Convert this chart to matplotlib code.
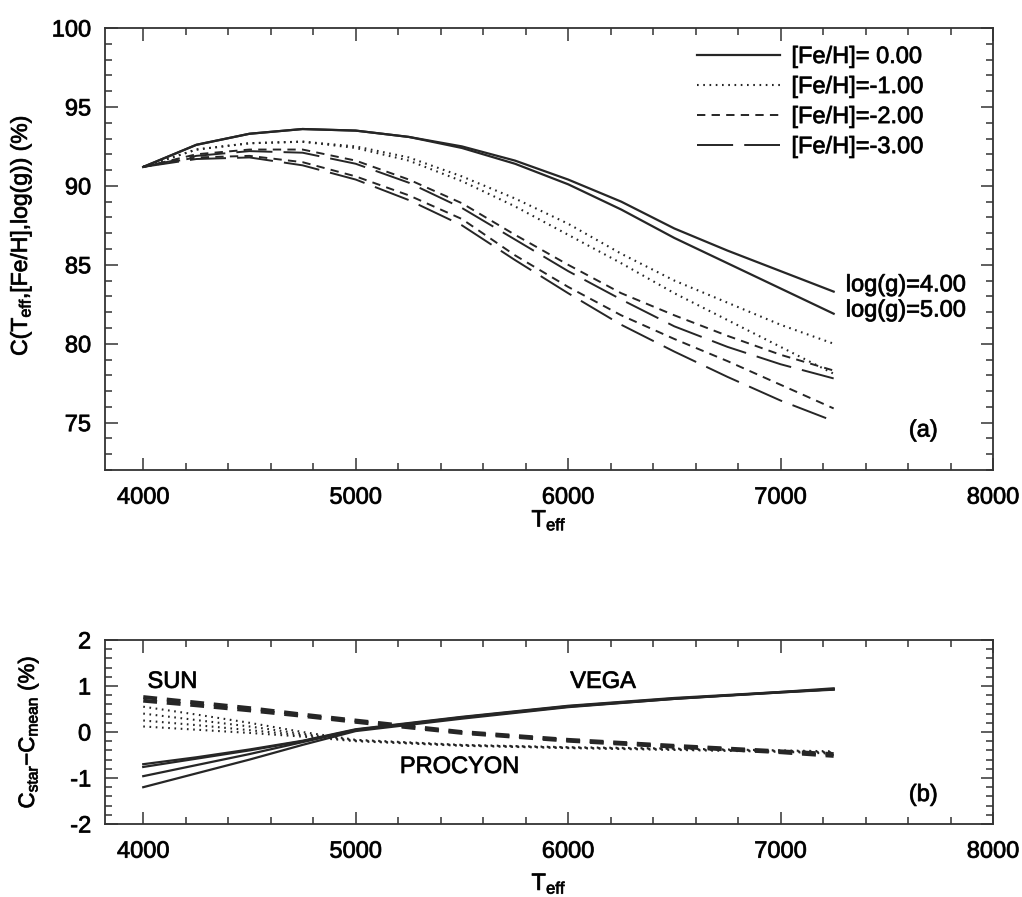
import numpy as np
import matplotlib
matplotlib.use('Agg')
import matplotlib.pyplot as plt
import matplotlib.patheffects as pe
from matplotlib.ticker import MultipleLocator

plt.rcParams['font.family'] = ['Liberation Sans', 'DejaVu Sans']
plt.rcParams['mathtext.fontset'] = 'custom'
plt.rcParams['mathtext.rm'] = 'Liberation Sans'
plt.rcParams['mathtext.it'] = 'Liberation Sans:italic'
plt.rcParams['lines.scale_dashes'] = False
plt.rcParams['axes.unicode_minus'] = False

# ---------------- panel (a) data ----------------
teff_a = [4000, 4250, 4500, 4750, 5000, 5250, 5500, 5750, 6000, 6250, 6500, 6750, 7000, 7250]
c_m0_g4 = [91.2, 92.6, 93.3, 93.6, 93.5, 93.1, 92.5, 91.6, 90.4, 89.0, 87.3, 85.9, 84.6, 83.3]
c_m0_g5 = [91.2, 92.6, 93.3, 93.6, 93.5, 93.1, 92.4, 91.4, 90.1, 88.5, 86.7, 85.1, 83.5, 81.9]
c_m1_g4 = [91.2, 92.3, 92.7, 92.8, 92.5, 91.8, 90.6, 89.2, 87.6, 85.7, 84.0, 82.6, 81.2, 80.0]
c_m1_g5 = [91.2, 92.3, 92.7, 92.8, 92.4, 91.6, 90.3, 88.7, 86.9, 85.1, 83.2, 81.5, 79.8, 78.1]
c_m2_g4 = [91.2, 92.0, 92.3, 92.3, 91.6, 90.4, 88.9, 86.9, 85.0, 83.2, 81.8, 80.5, 79.3, 78.3]
c_m3_g4 = [91.2, 91.9, 92.2, 92.1, 91.4, 90.2, 88.6, 86.6, 84.6, 82.8, 81.1, 79.8, 78.7, 77.8]
c_m2_g5 = [91.2, 91.8, 91.9, 91.5, 90.6, 89.4, 87.9, 85.6, 83.6, 81.8, 80.3, 78.9, 77.4, 75.9]
c_m3_g5 = [91.2, 91.7, 91.8, 91.3, 90.4, 89.1, 87.5, 85.3, 83.2, 81.2, 79.5, 77.9, 76.4, 75.1]

legend_labels = ['[Fe/H]= 0.00', '[Fe/H]=-1.00', '[Fe/H]=-2.00', '[Fe/H]=-3.00']
logg_labels = ['log(g)=4.00', 'log(g)=5.00']

# ---------------- panel (b) data ----------------
teff_b = [4000, 4250, 4500, 4750, 5000, 5500, 6000, 6500, 7000, 7250]
vega_1 = [-0.70, -0.55, -0.38, -0.19, 0.06, 0.33, 0.57, 0.74, 0.87, 0.93]
vega_2 = [-0.76, -0.58, -0.40, -0.20, 0.05, 0.32, 0.56, 0.73, 0.86, 0.92]
vega_3 = [-0.96, -0.72, -0.48, -0.22, 0.04, 0.31, 0.55, 0.72, 0.86, 0.93]
vega_4 = [-1.20, -0.90, -0.60, -0.28, 0.02, 0.29, 0.54, 0.72, 0.87, 0.95]
sun_1 = [0.76, 0.64, 0.52, 0.38, 0.25, 0.00, -0.17, -0.30, -0.42, -0.48]
sun_2 = [0.68, 0.58, 0.47, 0.35, 0.22, -0.02, -0.19, -0.32, -0.44, -0.52]
procyon_1 = [0.55, 0.38, 0.20, 0.00, -0.17, -0.28, -0.33, -0.36, -0.40, -0.42]
procyon_2 = [0.40, 0.26, 0.12, -0.04, -0.18, -0.29, -0.34, -0.37, -0.41, -0.44]
procyon_3 = [0.25, 0.15, 0.04, -0.07, -0.19, -0.29, -0.34, -0.38, -0.42, -0.45]
procyon_4 = [0.12, 0.05, -0.02, -0.10, -0.20, -0.30, -0.35, -0.39, -0.43, -0.47]

FS = 17
LC = '#262626'
ls_dot = (0, (1.2, 3.3))
ls_dash = (0, (6, 4.5))
ls_long = (0, (26, 8))

fig = plt.figure(figsize=(10.22, 8.97), dpi=100)
W, H = 1022, 897
axA = fig.add_axes([105 / W, 1 - 470 / H, 888 / W, 442 / H])
axB = fig.add_axes([105 / W, 1 - 824 / H, 888 / W, 184 / H])

for ax in (axA, axB):
    ax.set_xlim(3820, 8000)
    ax.xaxis.set_major_locator(MultipleLocator(1000))
    ax.xaxis.set_minor_locator(MultipleLocator(200))
    ax.tick_params(which='both', direction='in', top=True, right=True,
                   labelsize=FS, color='#333333', width=1.1)
    ax.tick_params(which='major', length=9)
    ax.tick_params(which='minor', length=5)
    ax.tick_params(axis='x', pad=12)
    ax.tick_params(axis='y', pad=10)
    for s in ax.spines.values():
        s.set_linewidth(1.3)
        s.set_color('#333333')

# ---- panel (a) ----
axA.set_ylim(72, 100)
axA.yaxis.set_major_locator(MultipleLocator(5))
axA.yaxis.set_minor_locator(MultipleLocator(1))

h0, = axA.plot(teff_a, c_m0_g4, color=LC, lw=1.6, ls='-')
axA.plot(teff_a, c_m0_g5, color=LC, lw=1.6, ls='-')
h1, = axA.plot(teff_a, c_m1_g4, color=LC, lw=1.5, ls=ls_dot)
axA.plot(teff_a, c_m1_g5, color=LC, lw=1.5, ls=ls_dot)
h2, = axA.plot(teff_a, c_m2_g4, color=LC, lw=1.4, ls=ls_dash)
axA.plot(teff_a, c_m2_g5, color=LC, lw=1.4, ls=ls_dash)
h3, = axA.plot(teff_a, c_m3_g4, color=LC, lw=1.4, ls=ls_long)
axA.plot(teff_a, c_m3_g5, color=LC, lw=1.4, ls=ls_long)

axA.legend([h0, h1, h2, h3], legend_labels, loc='upper left',
           bbox_to_anchor=((697 - 105) / 888, (470 - 46) / 442),
           frameon=False, fontsize=FS, handlelength=3.5, handletextpad=0.5,
           labelspacing=0.34, borderpad=0, borderaxespad=0)

axA.text(7307, 83.7, logg_labels[0], fontsize=FS, va='center', ha='left')
axA.text(7307, 82.1, logg_labels[1], fontsize=FS, va='center', ha='left')
axA.text(7604, 74.5, '(a)', fontsize=FS, va='center', ha='left')

axA.set_xlabel(r'T$_{\mathregular{eff}}$', fontsize=FS)
axA.xaxis.set_label_coords(0.5, -0.085)
axA.set_ylabel(r'C(T$_{\mathregular{eff}}$,[Fe/H],log(g)) (%)', fontsize=16.5)
axA.yaxis.set_label_coords(-0.08, 0.53)

# ---- panel (b) ----
axB.set_ylim(-2, 2)
axB.yaxis.set_major_locator(MultipleLocator(1))
axB.yaxis.set_minor_locator(MultipleLocator(0.2))

for v in (vega_1, vega_2, vega_3, vega_4):
    axB.plot(teff_b, v, color=LC, lw=1.6, ls='-')
for p in (procyon_1, procyon_2, procyon_3, procyon_4):
    axB.plot(teff_b, p, color=LC, lw=1.5, ls=ls_dot)
for s in (sun_1, sun_2):
    axB.plot(teff_b, s, color=LC, lw=2.8, ls=(0, (10, 7)))

axB.text(4020, 1.09, 'SUN', fontsize=FS, va='center', ha='left')
axB.text(6010, 1.09, 'VEGA', fontsize=FS, va='center', ha='left')
axB.text(5208, -0.76, 'PROCYON', fontsize=FS, va='center', ha='left')
axB.text(7604, -1.37, '(b)', fontsize=FS, va='center', ha='left')

axB.set_xlabel(r'T$_{\mathregular{eff}}$', fontsize=FS)
axB.xaxis.set_label_coords(0.5, -0.255)
axB.set_ylabel(r'C$_{\mathregular{star}}$$-$C$_{\mathregular{mean}}$ (%)', fontsize=16)
axB.yaxis.set_label_coords(-0.072, 0.5)

# slightly heavier text, as in the scanned original
for t in fig.findobj(matplotlib.text.Text):
    t.set_path_effects([pe.withStroke(linewidth=0.6, foreground='#222222')])

fig.savefig('out.png', dpi=100)
